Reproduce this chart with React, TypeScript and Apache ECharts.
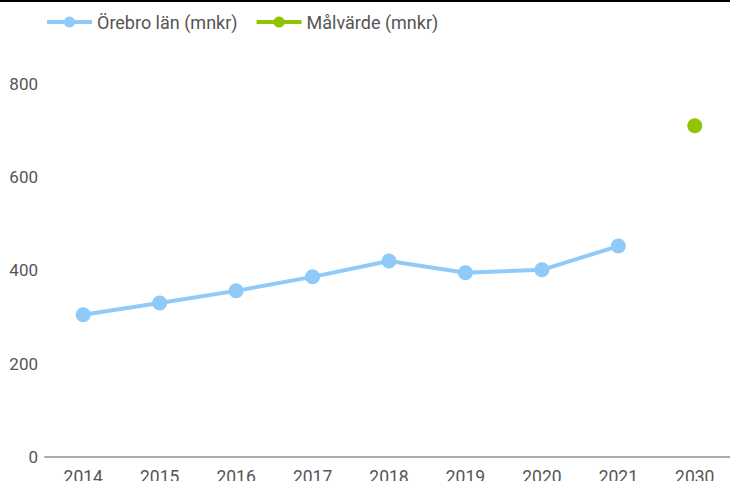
import React, { useEffect, useRef } from "react";
import * as echarts from "echarts";

const years = ["2014", "2015", "2016", "2017", "2018", "2019", "2020", "2021", "2030"];
const orebroValues: (number | null)[] = [305, 330, 356, 386, 420, 395, 401, 452, null];
const targetValues: (number | null)[] = [null, null, null, null, null, null, null, null, 710];
const seriesNames = ["Örebro län (mnkr)", "Målvärde (mnkr)"];

export default function App() {
  const ref = useRef<HTMLDivElement>(null);
  useEffect(() => {
    if (!ref.current) return;
    const chart = echarts.init(ref.current, undefined, { renderer: "svg" });
    chart.setOption({
      animation: false,
      textStyle: { fontFamily: "Roboto" },
      graphic: [
        { type: "rect", shape: { x: 0, y: 0, width: 730, height: 2 }, style: { fill: "#000" } },
      ],
      legend: {
        left: 40,
        top: 8,
        itemWidth: 45,
        itemHeight: 14,
        itemGap: 17,
        textStyle: { fontSize: 18, color: "#555", fontFamily: "Roboto" },
        lineStyle: { width: 4 },
        data: seriesNames,
      },
      grid: { left: 45, right: -3, top: 37, bottom: 24, containLabel: false, outerBoundsMode: "none" },
      xAxis: {
        type: "category",
        data: years,
        axisLine: { lineStyle: { color: "#aaa", width: 2 } },
        axisTick: { show: false },
        axisLabel: { fontSize: 17.5, color: "#555", margin: 11, fontFamily: "Roboto" },
      },
      yAxis: {
        type: "value",
        min: 0,
        max: 900,
        interval: 200,
        splitLine: { show: false },
        axisLine: { show: false },
        axisTick: { show: false },
        axisLabel: {
          fontSize: 17,
          color: "#555",
          margin: 7,
          fontFamily: "Roboto",
          formatter: (v: number) => (v > 800 ? "" : String(v)),
        },
      },
      series: [
        {
          name: seriesNames[0],
          type: "line",
          data: orebroValues,
          color: "#90CAF9",
          lineStyle: { width: 4, color: "#90CAF9" },
          itemStyle: { color: "#90CAF9" },
          symbol: "circle",
          symbolSize: 15,
        },
        {
          name: seriesNames[1],
          type: "line",
          data: targetValues,
          color: "#8FC400",
          lineStyle: { width: 4, color: "#8FC400" },
          itemStyle: { color: "#8FC400" },
          symbol: "circle",
          symbolSize: 15,
        },
      ],
    });
    return () => chart.dispose();
  }, []);
  return (
    <div style={{ position: "absolute", left: 0, top: 0, width: 730, height: 481, overflow: "hidden", background: "#fff" }}>
      <div ref={ref} style={{ width: 730, height: 481 }} />
    </div>
  );
}
